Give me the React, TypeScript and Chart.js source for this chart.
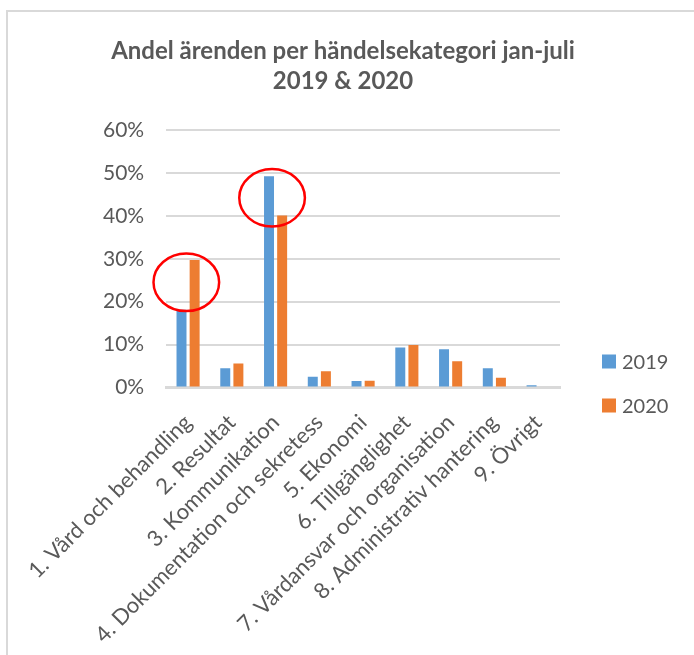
import { useEffect, useRef } from 'react';
import { Chart, registerables } from 'chart.js';

Chart.register(...registerables);

const categories = [
  '1. Vård och behandling',
  '2. Resultat',
  '3. Kommunikation',
  '4. Dokumentation och sekretess',
  '5. Ekonomi',
  '6. Tillgänglighet',
  '7. Vårdansvar och organisation',
  '8. Administrativ hantering',
  '9. Övrigt',
];
const values2019 = [18.1, 4.5, 49.2, 2.5, 1.5, 9.3, 8.9, 4.5, 0.5];
const values2020 = [29.7, 5.6, 40.1, 3.8, 1.6, 9.9, 6.1, 2.3, 0];
const seriesLabels = ['2019', '2020'];
const yTickMax = 60;
const yTickStep = 10;
const titleLines = ['Andel ärenden per händelsekategori jan-juli', '2019 & 2020'];
// red highlight ellipses: centre as (category index, value %)
const highlightCategory = [-0.04, 1.92];
const highlightValue = [24.5, 44.2];

const TEXT = '#595959';
const FONT = 'Lato';
const BLUE = '#5B9BD5';
const ORANGE = '#ED7D31';

const titlePlugin = {
  id: 'customTitle',
  afterDraw(chart: any) {
    const { ctx } = chart;
    ctx.save();
    ctx.font = `bold 24px ${FONT}`;
    ctx.fillStyle = TEXT;
    ctx.textAlign = 'center';
    ctx.textBaseline = 'alphabetic';
    const cx = chart.width / 2 - 4;
    titleLines.forEach((line, i) => {
      ctx.fillText(line, cx, 59 + i * 30);
    });
    ctx.restore();
  },
};

const highlightPlugin = {
  id: 'highlights',
  afterDatasetsDraw(chart: any) {
    const { ctx, scales } = chart;
    const x = scales.x;
    const y = scales.y;
    ctx.save();
    ctx.strokeStyle = '#FF0000';
    ctx.lineWidth = 2.5;
    highlightCategory.forEach((c, i) => {
      const cx = x.getPixelForValue(c);
      const cy = y.getPixelForValue(highlightValue[i]);
      const rx = x.getPixelForValue(c + 0.75) - cx;
      const ry = y.getPixelForValue(0) - y.getPixelForValue(6.7);
      ctx.beginPath();
      ctx.ellipse(cx, cy, rx, ry, 0, 0, Math.PI * 2);
      ctx.stroke();
    });
    ctx.restore();
  },
};

const legendPlugin = {
  id: 'customLegend',
  afterDraw(chart: any) {
    const { ctx, chartArea } = chart;
    ctx.save();
    ctx.font = `20px ${FONT}`;
    ctx.textBaseline = 'middle';
    ctx.textAlign = 'left';
    chart.data.datasets.forEach((ds: any, i: number) => {
      const x0 = chartArea.right + 42;
      const yc = chartArea.bottom - 26 + i * 44;
      ctx.fillStyle = ds.backgroundColor;
      ctx.fillRect(x0, yc - 7, 14, 14);
      ctx.fillStyle = TEXT;
      ctx.fillText(ds.label, x0 + 20, yc + 1);
    });
    ctx.restore();
  },
};

export default function App() {
  const ref = useRef<HTMLCanvasElement | null>(null);

  useEffect(() => {
    if (!ref.current) return;
    const chart = new Chart(ref.current, {
      type: 'bar',
      data: {
        labels: categories,
        datasets: [
          { label: seriesLabels[0], data: values2019, backgroundColor: BLUE },
          { label: seriesLabels[1], data: values2020, backgroundColor: ORANGE },
        ],
      },
      options: {
        animation: false,
        responsive: false,
        devicePixelRatio: 1,
        datasets: {
          bar: { categoryPercentage: 0.6, barPercentage: 0.76 },
        },
        layout: { padding: { left: 81, right: 134, top: 130, bottom: 10 } },
        plugins: {
          legend: { display: false },
          tooltip: { enabled: false },
          title: { display: false },
        },
        scales: {
          x: {
            grid: { display: false },
            border: { display: true, color: '#D9D9D9', width: 3 },
            ticks: {
              autoSkip: false,
              minRotation: 45,
              maxRotation: 45,
              color: TEXT,
              font: { family: FONT, size: 22 },
              padding: 14,
            },
          },
          y: {
            min: 0,
            max: yTickMax,
            border: { display: false },
            grid: { color: '#D9D9D9', lineWidth: 2, drawTicks: false },
            ticks: {
              stepSize: yTickStep,
              color: TEXT,
              font: { family: FONT, size: 21 },
              padding: 22,
              callback: (v: any) => `${v}%`,
            },
          },
        },
      },
      plugins: [highlightPlugin, legendPlugin, titlePlugin],
    });
    return () => chart.destroy();
  }, []);

  return (
    <div style={{ position: 'relative', width: 694, height: 655, overflow: 'hidden', background: '#fff' }}>
      <style>{'body{margin:0;}'}</style>
      <div
        style={{
          position: 'absolute',
          left: 6,
          top: 10,
          width: 900,
          height: 900,
          border: '2px solid #D9D9D9',
          boxSizing: 'border-box',
        }}
      />
      <canvas ref={ref} width={694} height={655} style={{ position: 'absolute', left: 0, top: 0 }} />
    </div>
  );
}
